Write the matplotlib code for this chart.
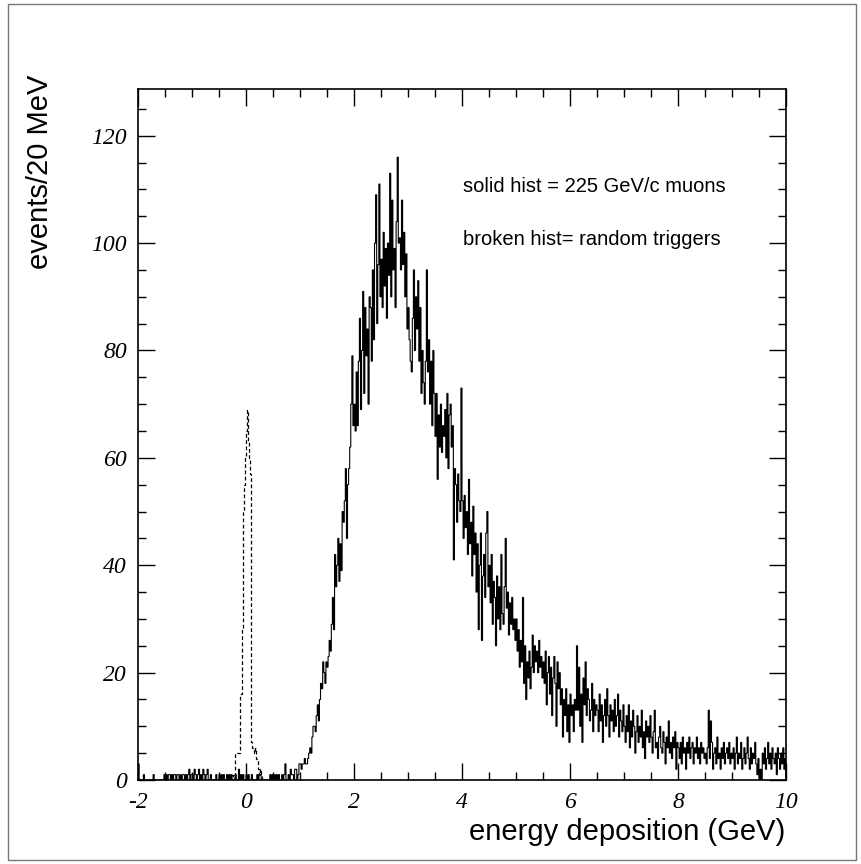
import numpy as np
import matplotlib.pyplot as plt
from matplotlib.ticker import MultipleLocator
from matplotlib.patches import Rectangle

# histogram contents, 20 MeV bins
bin_width = 0.02

# solid hist: 225 GeV/c muons, bins from -2 to 10 GeV (one row = 0.5 GeV)
muon_start = -2.0
muon_counts = [
    3, 0, 0, 0, 0, 1, 0, 0, 0, 0, 0, 0, 0, 0, 1, 0, 0, 0, 0, 0, 0, 0, 0, 0, 1,
    0, 1, 0, 1, 1, 0, 1, 0, 1, 1, 0, 1, 1, 0, 1, 0, 1, 1, 0, 1, 0, 1, 2, 0, 1,
    1, 0, 2, 1, 0, 1, 2, 0, 1, 0, 2, 1, 0, 1, 2, 0, 0, 1, 0, 0, 0, 0, 1, 0, 0,
    1, 0, 1, 0, 1, 0, 0, 1, 0, 1, 0, 1, 0, 0, 0, 1, 0, 0, 2, 0, 1, 0, 1, 0, 0,
    1, 0, 1, 0, 0, 1, 0, 0, 0, 0, 1, 0, 1, 1, 0, 0, 0, 0, 0, 0, 0, 0, 1, 0, 1,
    0, 1, 0, 1, 0, 1, 0, 0, 1, 0, 1, 3, 0, 0, 1, 0, 2, 1, 1, 0, 2, 2, 0, 1, 3,
    3, 2, 3, 3, 4, 3, 3, 4, 5, 6, 5, 8, 10, 10, 9, 12, 14, 11, 15, 18, 17, 22, 20, 18, 22,
    21, 23, 26, 24, 29, 34, 28, 42, 36, 40, 45, 37, 44, 39, 50, 48, 52, 58, 45, 55, 58, 62, 70, 79, 66,
    70, 65, 76, 66, 78, 86, 69, 80, 91, 72, 88, 79, 84, 70, 90, 88, 78, 95, 82, 100, 109, 85, 96, 111, 90,
    97, 88, 102, 92, 99, 86, 100, 94, 113, 90, 108, 95, 99, 88, 104, 116, 100, 101, 95, 108, 96, 102, 90, 98, 84,
    88, 82, 78, 76, 86, 95, 80, 90, 84, 93, 78, 88, 72, 80, 74, 70, 78, 95, 76, 82, 70, 78, 66, 80, 72,
    64, 72, 56, 68, 62, 70, 61, 66, 64, 69, 60, 72, 58, 68, 70, 62, 66, 41, 58, 55, 48, 57, 52, 50, 73,
    52, 45, 53, 47, 50, 42, 56, 44, 48, 38, 51, 42, 46, 35, 44, 28, 40, 46, 26, 38, 42, 34, 46, 50, 36,
    40, 33, 42, 29, 37, 34, 25, 38, 30, 36, 28, 42, 31, 29, 36, 45, 32, 35, 27, 33, 29, 34, 28, 30, 26,
    30, 24, 28, 21, 26, 22, 34, 18, 25, 15, 22, 19, 24, 17, 21, 27, 20, 25, 22, 24, 20, 26, 21, 23, 19,
    22, 18, 24, 14, 20, 23, 16, 21, 12, 19, 23, 18, 10, 22, 17, 20, 14, 17, 8, 15, 12, 17, 9, 14, 7,
    16, 12, 14, 9, 15, 13, 25, 13, 21, 10, 16, 7, 19, 14, 22, 12, 17, 15, 11, 13, 18, 9, 15, 12, 14,
    13, 9, 16, 11, 14, 7, 12, 15, 10, 17, 12, 8, 14, 11, 13, 9, 15, 10, 12, 16, 8, 13, 11, 9, 14,
    10, 7, 12, 9, 14, 6, 11, 8, 13, 10, 5, 9, 12, 7, 10, 8, 13, 6, 9, 4, 11, 8, 10, 7, 12,
    8, 5, 9, 13, 6, 7, 4, 8, 10, 6, 5, 9, 7, 3, 8, 6, 11, 5, 7, 4, 8, 6, 9, 2, 7,
    6, 4, 7, 3, 8, 5, 6, 2, 7, 5, 8, 4, 6, 7, 3, 6, 5, 8, 4, 6, 3, 7, 5, 6, 4,
    5, 3, 6, 13, 4, 11, 7, 2, 5, 6, 3, 8, 4, 5, 2, 6, 4, 7, 3, 5, 6, 4, 7, 3, 5,
    4, 6, 2, 5, 8, 3, 5, 4, 7, 2, 4, 6, 3, 5, 8, 4, 2, 6, 3, 5, 4, 7, 3, 1, 4,
    0, 2, 0, 5, 3, 6, 2, 4, 7, 3, 5, 2, 6, 4, 3, 5, 1, 6, 4, 2, 5, 3, 6, 2, 4,
]

# broken hist: random triggers (pedestal around 0)
trig_start = -0.30
trig_counts = [0, 0, 1, 0, 1, 5, 5, 5, 5, 16, 16, 28, 50, 55, 60, 65, 69,
               63, 60, 57, 7, 6, 5, 6, 4, 4, 2, 1, 2, 1, 0]

x_ticks = [-2, 0, 2, 4, 6, 8, 10]
y_ticks = [0, 20, 40, 60, 80, 100, 120]
y_top = 128.7

label_font = 'Liberation Sans'
num_font = 'Liberation Serif'

fig = plt.figure(figsize=(8.61, 8.64), dpi=100)
ax = fig.add_axes([138/861, 84/864, 648/861, 691/864])

muon_edges = muon_start + bin_width * np.arange(len(muon_counts) + 1)
trig_edges = trig_start + bin_width * np.arange(len(trig_counts) + 1)

ax.stairs(muon_counts, muon_edges, color='black', lw=0.8)
ax.stairs(trig_counts, trig_edges, color='black', lw=0.9, linestyle=(0, (3, 2)))

ax.set_xlim(x_ticks[0], x_ticks[-1])
ax.set_ylim(0, y_top)

ax.set_xticks(x_ticks)
ax.set_xticklabels([str(t) for t in x_ticks])
ax.set_yticks(y_ticks)
ax.set_yticklabels([str(t) for t in y_ticks])
ax.xaxis.set_minor_locator(MultipleLocator(0.5))
ax.yaxis.set_minor_locator(MultipleLocator(5))

ax.tick_params(which='both', direction='in', top=True, right=True, width=1.0)
ax.tick_params(which='major', length=12)
ax.tick_params(which='minor', length=6)
ax.tick_params(axis='x', pad=9)
ax.tick_params(axis='y', pad=8)
for lab in ax.get_xticklabels() + ax.get_yticklabels():
    lab.set_family(num_font)
    lab.set_style('italic')
    lab.set_fontsize(17)

for sp in ax.spines.values():
    sp.set_linewidth(1.2)

ax.text(4.02, 110.6, 'solid hist = 225 GeV/c muons', fontsize=14.5,
        family=label_font, va='center', ha='left')
ax.text(4.02, 100.7, 'broken hist= random triggers', fontsize=14.5,
        family=label_font, va='center', ha='left')

fig.text(40/861, (864-75)/864, 'events/20 MeV', rotation=90, fontsize=21,
         family=label_font, ha='center', va='top')
fig.text(785/861, (864-832)/864, 'energy deposition (GeV)', fontsize=21,
         family=label_font, ha='right', va='center')

# thin frame round the whole page
fig.add_artist(Rectangle((8/861, 4/864), 848/861, 856/864, transform=fig.transFigure,
                         fill=False, edgecolor='#777777', lw=1.0))

fig.savefig('out.png', dpi=100)
